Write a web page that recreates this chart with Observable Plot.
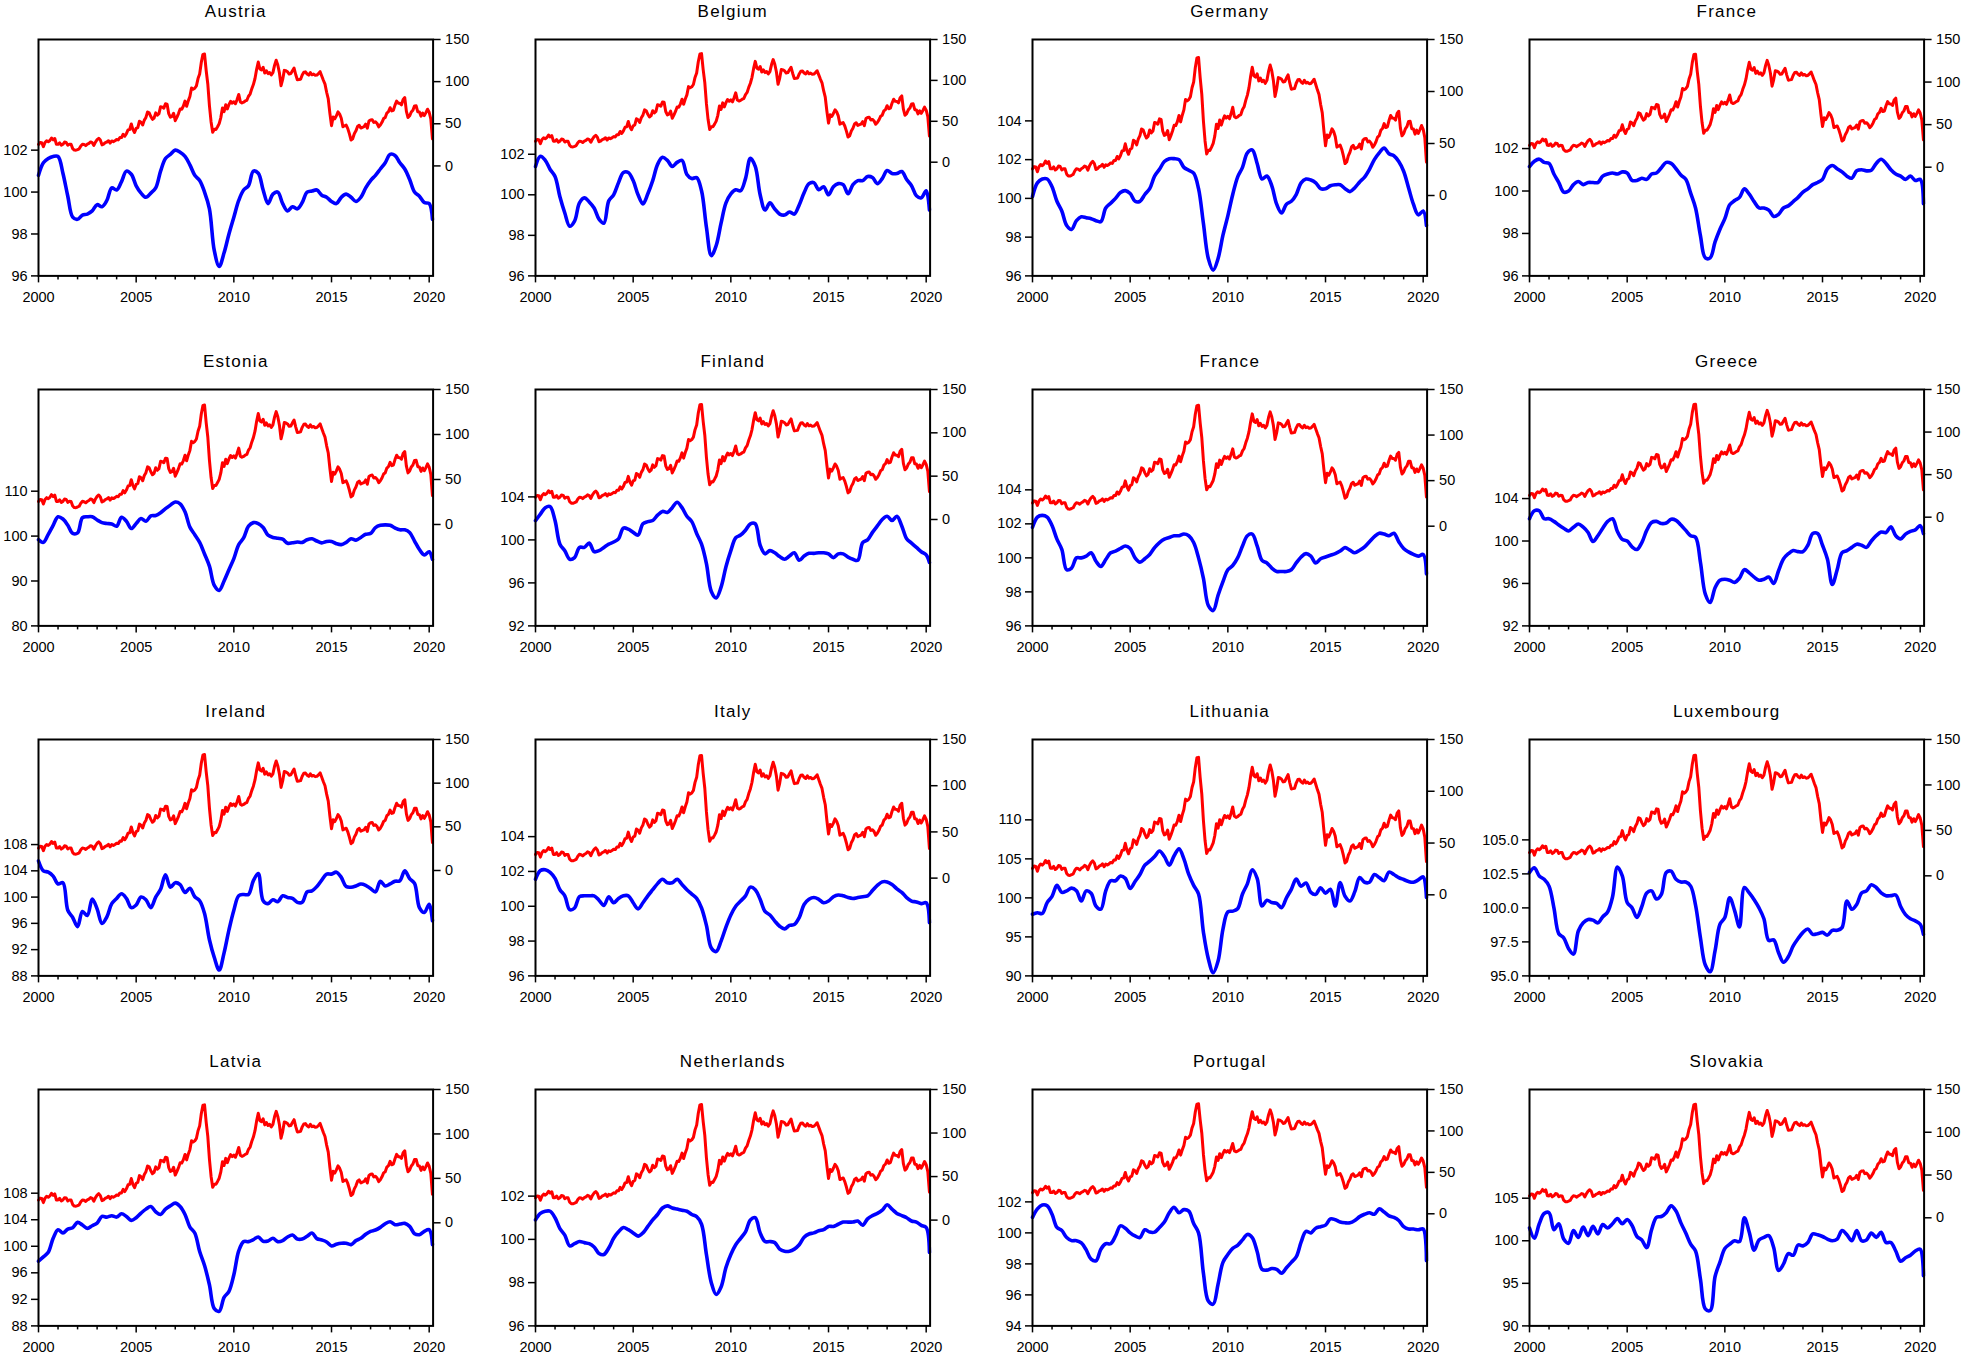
<!DOCTYPE html>
<html><head><meta charset="utf-8">
<script src="https://cdn.jsdelivr.net/npm/d3@7"></script>
<script src="https://cdn.jsdelivr.net/npm/@observablehq/plot@0.6"></script>
<style>
html,body{margin:0;padding:0;background:#fff;width:1961px;height:1357px;overflow:hidden;}
#wrap{position:relative;width:1961px;height:1357px;}
</style></head><body><div id="wrap"></div>
<script>
// Brent crude oil price, monthly average (USD/bbl), Jan 2000 – Mar 2020 (right axis)
const brent = [
25.51,27.78,27.49,22.76,27.74,29.80,28.68,30.20,33.14,30.96,32.55,25.66,
25.62,27.50,24.50,25.66,28.31,27.85,24.61,25.68,25.62,20.54,18.80,18.71,
19.42,20.28,23.70,25.73,25.35,24.08,25.74,26.65,28.40,27.54,24.34,28.33,
31.18,32.77,30.61,25.00,25.86,27.65,28.35,29.89,27.11,29.61,28.75,29.81,
31.28,30.86,33.63,33.59,37.57,35.18,38.22,42.74,43.20,49.78,43.11,39.60,
44.51,45.48,53.10,51.88,48.65,54.35,57.52,63.98,62.91,58.54,55.24,56.86,
62.99,60.21,62.06,70.26,69.78,68.56,73.67,73.23,61.96,57.81,58.76,62.47,
53.68,57.56,62.05,67.49,67.21,71.05,76.93,70.76,77.17,82.34,92.41,90.93,
92.18,94.99,103.64,109.07,122.80,132.32,132.72,113.24,97.23,71.58,52.45,39.95,
43.44,43.32,46.54,50.18,57.30,68.61,64.44,72.51,67.65,72.77,76.66,74.46,
76.17,73.75,78.83,84.82,75.95,74.76,75.58,77.04,77.84,82.67,85.28,91.45,
96.52,103.72,114.64,123.26,114.99,113.83,116.97,110.22,112.83,109.55,110.77,107.87,
110.69,119.33,125.45,119.75,110.34,95.16,102.62,113.36,112.86,111.71,109.06,109.49,
112.96,116.05,108.47,102.25,102.56,102.92,107.93,111.28,111.60,109.08,107.79,110.76,
108.12,108.90,107.48,107.76,109.54,111.80,106.77,101.61,97.09,87.43,79.44,62.34,
47.76,58.10,55.89,59.52,64.08,61.48,56.56,46.52,47.62,48.43,44.27,38.01,
30.70,32.18,38.21,41.58,46.74,48.25,44.95,45.84,46.57,49.52,44.73,53.31,
54.58,54.87,51.59,52.31,50.33,46.37,48.48,51.70,56.15,57.51,62.71,64.37,
69.08,65.32,66.02,72.11,76.98,74.41,74.25,72.53,78.89,81.03,64.75,57.36,
59.41,63.96,66.14,71.23,71.32,64.22,63.92,59.04,62.83,59.71,63.21,67.31,
63.65,55.66,32.01];
const brentDates = brent.map((_, k) => 2000 + k / 12);

// Country index (left axis), quarterly readings 2000Q1..2020Q1 plus Mar 2020
const quarterDates = [...d3.range(81).map(k => 2000 + k / 4), 2020 + 2 / 12];

const austria = [
100.8,101.4,101.6,101.7, 101.7,100.9,99.8,98.8, 98.7,98.9,98.95,99.1, 99.4,99.3,99.6,100.2,
100.1,100.5,101.0,100.85, 100.3,99.95,99.75,99.95, 100.2,101.0,101.6,101.8, 102.0,101.9,101.7,101.3,
100.8,100.55,100.0,99.2, 97.2,96.45,97.1,98.0, 98.8,99.6,100.1,100.3, 101.0,100.9,100.1,99.45,
99.9,100.0,99.45,99.1, 99.3,99.2,99.5,100.0, 100.05,100.1,99.85,99.75, 99.55,99.45,99.75,99.9,
99.75,99.55,99.75,100.2, 100.55,100.8,101.1,101.4, 101.8,101.75,101.4,101.1, 100.6,100.0,99.8,99.5,
99.45,98.7];
const belgium = [
101.4,101.9,101.7,101.25, 100.9,99.9,99.1,98.45, 98.7,99.6,99.85,99.65, 99.35,98.8,98.6,99.7,
100.0,100.6,101.1,101.1, 100.7,100.0,99.55,100.05, 100.7,101.5,101.85,101.7, 101.4,101.6,101.7,101.0,
100.8,100.85,100.2,98.4, 97.0,97.5,98.6,99.6, 100.05,100.25,100.2,100.8, 101.8,101.4,100.0,99.25,
99.6,99.3,99.05,99.0, 99.15,99.05,99.5,100.1, 100.55,100.6,100.25,100.4, 100.0,100.4,100.55,100.5,
100.05,100.5,100.7,100.7, 100.9,100.85,100.55,100.8, 101.2,101.05,101.05,101.15, 100.75,100.45,99.95,99.85,
100.2,99.25];
const germany = [
100.1,100.8,101.0,101.0, 100.6,99.85,99.35,98.6, 98.4,98.85,99.05,99.0, 98.95,98.85,98.8,99.5,
99.75,100.0,100.3,100.4, 100.25,99.85,99.85,100.2, 100.5,101.15,101.5,101.9, 102.05,102.05,102.0,101.6,
101.45,101.3,100.5,98.7, 96.9,96.3,96.9,98.1, 99.1,100.2,101.1,101.6, 102.35,102.5,101.8,101.0,
101.15,100.65,99.7,99.25, 99.7,99.85,100.2,100.8, 101.0,100.95,100.8,100.5, 100.5,100.65,100.7,100.7,
100.5,100.35,100.55,100.85, 101.1,101.5,102.0,102.35, 102.6,102.3,102.2,101.9, 101.4,100.55,99.7,99.15,
99.35,98.6];
const franceA = [
101.15,101.4,101.5,101.35, 101.3,100.8,100.4,99.95, 100.0,100.3,100.45,100.3, 100.4,100.4,100.4,100.7,
100.8,100.85,100.8,100.9, 100.85,100.5,100.5,100.6, 100.55,100.8,100.85,101.1, 101.35,101.3,101.05,100.75,
100.55,99.9,99.2,97.9, 96.85,96.85,97.6,98.2, 98.7,99.35,99.55,99.7, 100.1,99.85,99.5,99.2,
99.2,99.1,98.8,98.9, 99.2,99.3,99.5,99.7, 99.95,100.1,100.3,100.4, 100.55,101.05,101.2,101.05,
100.9,100.7,100.6,100.95, 101.0,100.95,100.98,101.3, 101.5,101.3,101.0,100.8, 100.7,100.55,100.7,100.5,
100.55,99.4];
const estonia = [
99.2,98.6,100.4,102.4, 104.3,103.8,102.4,100.6, 100.7,104.1,104.3,104.3, 103.6,103.0,102.8,102.7,
102.2,104.2,103.3,101.7, 102.8,103.9,103.3,104.5, 104.6,105.2,106.1,106.9, 107.6,107.2,105.4,102.0,
100.3,98.6,96.0,93.3, 89.0,87.9,90.0,92.5, 95.0,98.1,99.6,102.2, 103.0,102.8,101.9,100.2,
99.7,99.5,99.3,98.4, 98.5,98.7,98.6,99.2, 99.4,98.9,98.5,98.8, 98.8,98.3,98.1,98.6,
99.4,99.1,99.7,100.4, 100.6,101.9,102.4,102.5, 102.4,101.8,101.4,101.4, 100.8,98.9,97.0,95.8,
96.5,94.8];
const finland = [
101.8,102.4,103.0,103.1, 101.8,99.6,99.0,98.2, 98.35,99.3,99.3,99.7, 98.9,99.0,99.3,99.6,
99.8,100.1,101.1,101.0, 100.7,100.45,101.5,101.7, 101.8,102.3,102.65,102.55, 103.0,103.5,103.0,102.2,
101.7,100.6,99.6,97.8, 95.2,94.6,95.6,97.5, 99.0,100.2,100.45,100.9, 101.5,101.5,99.5,98.7,
99.0,98.8,98.45,98.2, 98.5,98.8,98.1,98.5, 98.75,98.75,98.8,98.8, 98.7,98.35,98.7,98.7,
98.4,98.2,98.1,99.75, 100.0,100.7,101.3,101.9, 102.2,101.8,102.2,101.3, 100.1,99.7,99.3,98.9,
98.6,97.9];
const franceB = [
101.8,102.4,102.5,102.4, 101.9,101.1,100.5,99.3, 99.4,100.0,100.0,100.1, 100.3,99.8,99.5,99.9,
100.3,100.4,100.55,100.7, 100.55,100.0,99.75,99.95, 100.2,100.6,100.9,101.1, 101.2,101.3,101.3,101.4,
101.3,100.9,100.0,98.8, 97.2,96.9,97.8,98.6, 99.3,99.55,100.0,100.7, 101.3,101.4,100.7,99.85,
99.7,99.4,99.2,99.2, 99.2,99.3,99.7,100.05, 100.25,100.1,99.7,99.95, 100.05,100.15,100.25,100.4,
100.6,100.45,100.3,100.45, 100.65,100.95,101.25,101.45, 101.4,101.3,101.45,100.95, 100.55,100.35,100.2,100.1,
100.2,99.05];
const greece = [
102.1,102.85,102.85,102.1, 102.1,101.85,101.5,101.2, 100.95,101.3,101.6,101.3, 100.8,99.95,100.5,101.2,
101.85,102.1,100.9,100.15, 100.0,99.45,99.2,99.85, 101.0,101.75,101.85,101.65, 101.7,102.05,101.95,101.5,
101.0,100.5,100.35,98.0, 95.0,94.2,95.6,96.3, 96.4,96.3,96.1,96.5, 97.3,97.0,96.6,96.3,
96.4,96.6,96.0,97.2, 98.3,98.8,99.1,99.0, 99.0,99.6,100.7,100.7, 99.6,98.3,95.9,97.3,
98.9,99.1,99.4,99.7, 99.6,99.4,100.0,100.5, 100.85,100.8,101.35,100.5, 100.2,100.65,100.9,101.05,
101.45,100.7];
const ireland = [
105.5,104.0,103.8,103.2, 102.0,102.2,98.0,96.9, 95.5,97.8,97.2,99.7, 98.2,96.0,97.0,99.0,
99.8,100.5,99.8,98.4, 98.8,100.0,99.6,98.4, 100.0,101.2,103.4,101.5, 102.2,101.9,100.7,101.35,
100.05,99.45,97.5,93.5, 90.8,88.9,91.5,95.0, 98.0,100.2,100.4,100.4, 102.5,103.6,99.45,99.0,
99.6,99.3,100.2,99.95, 99.8,99.2,99.2,100.8, 100.95,101.6,102.6,103.5, 103.5,103.8,103.0,101.6,
101.5,101.7,102.0,101.8, 101.3,100.8,102.4,101.7, 102.0,102.4,102.5,104.0, 102.8,102.1,98.4,97.65,
98.9,96.4];
const italy = [
101.55,102.05,102.1,101.95, 101.6,100.95,100.6,99.8, 99.9,100.55,100.6,100.6, 100.6,100.35,100.05,100.55,
100.2,100.45,100.6,100.6, 100.2,99.85,100.2,100.6, 100.95,101.3,101.55,101.35, 101.35,101.55,101.25,100.95,
100.7,100.45,99.9,98.9, 97.6,97.4,98.0,98.8, 99.5,100.0,100.3,100.6, 101.1,100.95,100.4,99.7,
99.5,99.15,98.85,98.7, 98.9,98.95,99.35,100.1, 100.4,100.5,100.4,100.2, 100.3,100.55,100.65,100.6,
100.5,100.45,100.5,100.55, 100.6,100.9,101.2,101.4, 101.4,101.25,101.0,100.8, 100.5,100.3,100.25,100.15,
100.2,99.05];
const lithuania = [
97.9,98.1,98.0,99.4, 100.2,101.6,100.7,100.9, 101.25,100.9,99.6,100.9, 100.6,98.95,98.55,100.9,
102.2,102.2,102.8,102.5, 101.2,102.1,103.0,104.2, 104.7,105.3,106.0,105.3, 104.2,105.4,106.3,105.0,
103.0,101.6,100.5,95.6, 92.2,90.4,91.9,96.0, 98.2,98.3,98.6,100.5, 101.8,103.6,102.5,98.95,
99.7,99.4,99.3,98.75, 100.0,101.1,102.4,101.5, 101.9,100.7,100.45,101.3, 100.6,101.1,98.95,101.95,
100.2,99.6,100.8,102.6, 102.0,102.0,103.0,102.6, 102.2,103.3,103.0,102.6, 102.35,102.1,102.0,102.3,
102.7,100.05];
const luxembourg = [
102.6,102.95,102.35,102.1, 101.6,100.0,98.1,97.8, 97.0,96.6,98.3,98.9, 99.15,99.1,98.9,99.35,
99.7,100.8,103.0,102.35, 100.4,100.0,99.3,100.1, 101.1,101.25,100.65,101.0, 102.6,102.7,102.1,101.9,
101.9,101.6,100.2,97.8, 95.8,95.3,96.85,98.8, 99.3,100.75,99.8,98.6, 101.5,101.1,100.6,100.0,
99.2,97.6,97.65,96.7, 96.0,96.4,97.2,97.75, 98.2,98.45,98.05,98.1, 98.2,98.0,98.35,98.35,
98.55,100.5,99.9,100.25, 101.1,101.25,101.7,101.5, 101.1,100.9,100.9,100.95, 100.1,99.5,99.2,99.05,
98.8,98.05];
const latvia = [
97.75,98.4,99.1,101.2, 102.5,102.0,102.6,102.8, 103.6,103.2,102.7,103.1, 103.5,104.5,104.4,104.6,
104.4,104.9,104.5,103.9, 104.3,105.0,105.6,106.0, 105.2,104.8,105.6,106.1, 106.5,106.0,104.8,102.9,
102.0,99.2,97.1,94.2, 90.6,90.2,92.3,93.2, 95.7,99.3,100.7,100.7, 101.0,101.4,100.75,100.8,
101.2,100.7,100.85,101.4, 101.7,101.1,101.1,101.5, 102.0,101.15,100.95,100.65, 100.05,100.3,100.45,100.45,
100.25,100.85,101.2,101.8, 102.25,102.45,102.85,103.4, 103.7,103.25,103.35,103.45, 103.0,101.9,101.75,102.25,
102.5,100.25];
const netherlands = [
100.9,101.2,101.3,101.3, 101.0,100.5,100.2,99.7, 99.8,99.9,99.85,99.8, 99.65,99.35,99.3,99.6,
100.05,100.35,100.55,100.45, 100.3,100.15,100.3,100.6, 100.9,101.15,101.45,101.55, 101.45,101.4,101.35,101.3,
101.15,101.05,100.7,99.3, 98.0,97.45,97.8,98.7, 99.3,99.75,100.05,100.35, 100.9,101.0,100.3,99.9,
99.9,99.85,99.55,99.45, 99.45,99.55,99.75,100.1, 100.25,100.3,100.4,100.45, 100.6,100.6,100.7,100.8,
100.8,100.8,100.85,100.65, 100.95,101.1,101.2,101.35, 101.6,101.4,101.2,101.1, 101.0,100.85,100.8,100.65,
100.55,99.4];
const portugal = [
101.0,101.55,101.8,101.75, 101.2,100.35,100.15,99.7, 99.5,99.5,99.35,98.9, 98.3,98.2,98.95,99.3,
99.3,99.8,100.45,100.3, 100.0,99.8,99.7,100.2, 100.05,100.05,100.35,100.7, 101.3,101.65,101.3,101.5,
101.4,100.6,100.0,97.4, 95.6,95.4,96.7,98.1, 98.6,99.0,99.2,99.55, 99.9,99.7,98.8,97.65,
97.6,97.7,97.65,97.4, 97.75,98.1,98.45,99.4, 100.1,100.0,100.3,100.4, 100.5,100.9,100.85,100.7,
100.65,100.65,100.8,101.05, 101.2,101.3,101.2,101.55, 101.35,101.1,101.0,100.8, 100.4,100.25,100.25,100.2,
100.25,98.2];
const slovakia = [
101.5,100.3,102.0,103.2, 103.3,101.3,102.0,100.2, 99.7,101.2,100.4,101.6, 100.6,101.7,100.8,101.9,
101.5,102.0,102.6,102.0, 102.5,101.8,100.5,100.1, 99.2,101.3,102.75,102.85, 103.3,104.1,103.5,102.1,
100.9,99.6,98.8,95.5, 92.0,91.8,95.8,97.5, 99.1,99.6,100.0,99.9, 102.7,101.0,98.9,100.1,
100.4,100.6,99.2,96.5, 97.25,98.5,98.3,99.5, 99.4,99.8,100.8,100.7, 100.5,100.2,100.0,100.2,
101.2,100.7,100.0,101.2, 100.0,100.1,100.9,100.4, 101.0,99.8,99.8,98.8, 97.6,98.0,98.3,98.8,
99.0,95.9];

const countries = ["Austria","Belgium","Germany","France","Estonia","Finland","France","Greece",
  "Ireland","Italy","Lithuania","Luxembourg","Latvia","Netherlands","Portugal","Slovakia"];
const blueSeries = [austria,belgium,germany,franceA,estonia,finland,franceB,greece,
  ireland,italy,lithuania,luxembourg,latvia,netherlands,portugal,slovakia];

// Axis tick labels
const leftTickSets = [
  [96,98,100,102],[96,98,100,102],[96,98,100,102,104],[96,98,100,102],
  [80,90,100,110],[92,96,100,104],[96,98,100,102,104],[92,96,100,104],
  [88,92,96,100,104,108],[96,98,100,102,104],[90,95,100,105,110],[95,97.5,100,102.5,105],
  [88,92,96,100,104,108],[96,98,100,102],[94,96,98,100,102],[90,95,100,105]];
const leftDomains = [
  [96,107.28],[96,107.66],[96,108.2],[96,107.14],
  [80,132.65],[92,113.99],[96,109.9],[92,114.28],
  [88,124.0],[96,109.58],[90,120.3],[95,112.38],
  [88,123.63],[96,106.93],[94,109.25],[90,117.77]];
const rightBottoms = [-130.5,-139,-77.3,-127.7, -112.7,-122.8,-109.4,-127.7,
  -120.7,-105.8,-78.3,-110.1, -116,-121.5,-135.3,-126.4];
const rightTicks = [0,50,100,150];
const yearsMajor = [2000,2005,2010,2015,2020];
const yearsMinor = [2001,2002,2003,2004,2006,2007,2008,2009,2011,2012,2013,2014,2016,2017,2018,2019];

const W = 394.6, H = 236.4, mL = 40, mR = 37, mT = 39, mB = 42;
const colLeft = [37.7, 535, 1032, 1529];
const rowTop = [39.3, 389.3, 739.3, 1089.3];
const wrap = document.getElementById("wrap");

countries.forEach((name, i) => {
  const r = Math.floor(i / 4), c = i % 4;
  const [lo, hi] = leftDomains[i];
  const rLo = rightBottoms[i];
  const toLeft = v => lo + (v - rLo) / (150 - rLo) * (hi - lo);
  const fromLeft = y => rLo + (y - lo) / (hi - lo) * (150 - rLo);
  const blueData = quarterDates.map((t, k) => ({t, v: blueSeries[i][k]}));
  const redData = brent.map((v, k) => ({t: brentDates[k], v: toLeft(v)}));
  const fmt = name === "Luxembourg" ? d3.format(".1f") : d3.format("d");
  const chart = Plot.plot({
    width: W + mL + mR, height: H + mT + mB,
    marginLeft: mL, marginRight: mR, marginTop: mT, marginBottom: mB,
    x: {domain: [2000, 2020.2]},
    y: {domain: [lo, hi]},
    style: {fontSize: "14.5px", fontFamily: "'Liberation Sans', Arial, sans-serif", color: "black", background: "white", overflow: "visible"},
    marks: [
      Plot.line(redData, {x: "t", y: "v", stroke: "#ff0000", strokeWidth: 3}),
      Plot.line(blueData, {x: "t", y: "v", stroke: "#0000ff", strokeWidth: 3.6, curve: "catmull-rom"}),
      Plot.frame({stroke: "black", strokeWidth: 2}),
      Plot.axisX(yearsMinor, {tickSize: 4, strokeWidth: 1.5, tickFormat: () => "", label: null}),
      Plot.axisX(yearsMajor, {tickSize: 7, strokeWidth: 1.5, tickPadding: 8.5, tickFormat: d => String(d), label: null}),
      Plot.axisY(leftTickSets[i], {anchor: "left", tickSize: 7, strokeWidth: 1.5, tickPadding: 4, tickFormat: fmt, label: null}),
      Plot.axisY(rightTicks.map(toLeft), {anchor: "right", tickSize: 7, strokeWidth: 1.5, tickPadding: 5,
        tickFormat: d => String(Math.round(fromLeft(d))), label: null}),
      Plot.text([name], {frameAnchor: "top", dy: -22, lineAnchor: "bottom", fontSize: 17, text: d => d})
    ]
  });
  chart.querySelectorAll('g[aria-label="text"] text').forEach(t => t.setAttribute("letter-spacing", "1.3px"));
  chart.style.position = "absolute";
  chart.style.left = (colLeft[c] - mL) + "px";
  chart.style.top = (rowTop[r] - mT) + "px";
  wrap.appendChild(chart);
});
</script></body></html>
